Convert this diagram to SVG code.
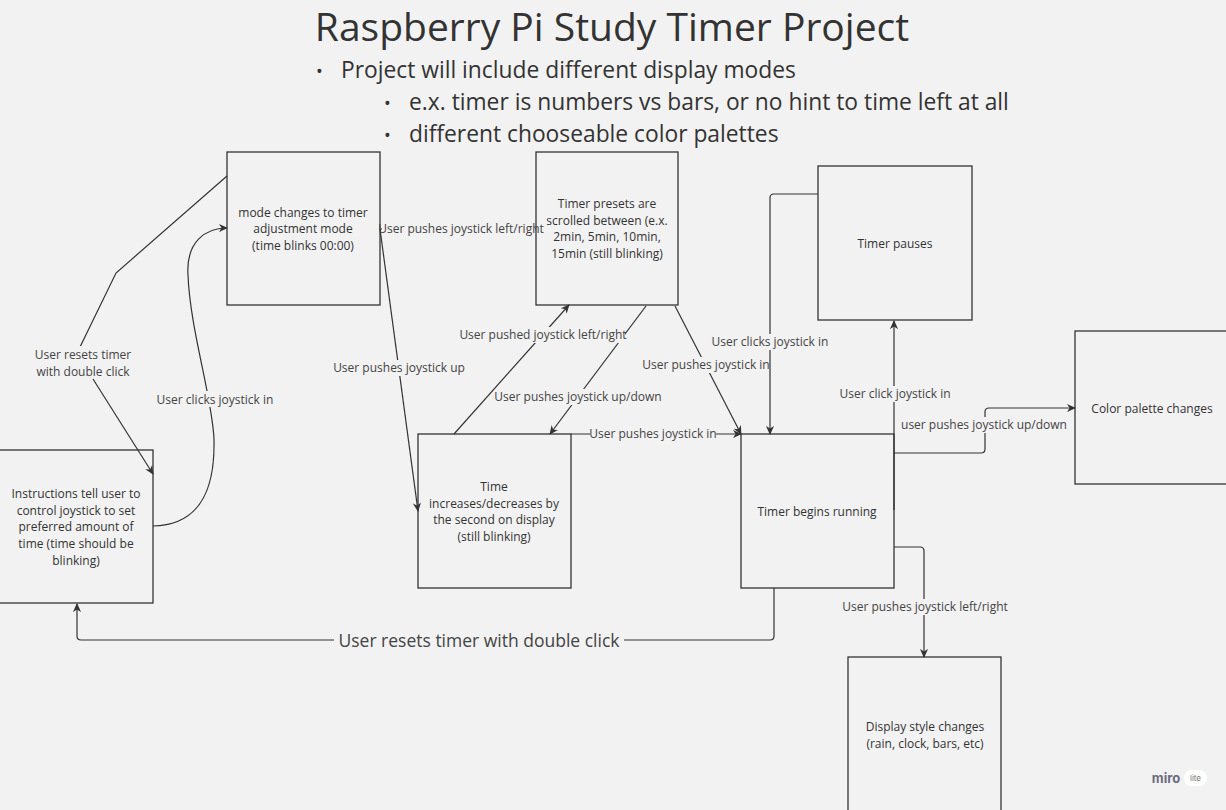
<svg xmlns="http://www.w3.org/2000/svg" width="1226" height="810" viewBox="0 0 1226 810">
<defs>
<marker id="ah" viewBox="0 0 10 10" refX="9" refY="5" markerWidth="9" markerHeight="9" markerUnits="userSpaceOnUse" orient="auto">
<path d="M0,0.5 L10,5 L0,9.5 L3,5 Z" fill="#333"/>
</marker>
<style>
.bg{fill:#f2f2f2}
.node rect{fill:#f2f2f2;stroke:#333;stroke-width:1.3}
.node text{font-family:"Open Sans","Noto Sans",sans-serif;font-size:12px;fill:#333;text-anchor:middle}
.conn path{fill:none;stroke:#333;stroke-width:1.2}
.lbl{font-family:"Open Sans","Noto Sans",sans-serif;font-size:12px;fill:#444;text-anchor:middle}
.big{font-size:17.5px}
.lblbg{fill:#f2f2f2}
.title{font-family:"Open Sans","Noto Sans",sans-serif;fill:#333}
</style>
</defs>
<rect class="bg" x="0" y="0" width="1226" height="810"/>
<g id="title">
<text class="title" x="612" y="41" font-size="39" text-anchor="middle">Raspberry Pi Study Timer Project</text>
<text class="title" x="316" y="78" font-size="18">•</text>
<text class="title" x="341" y="78" font-size="22.8">Project will include different display modes</text>
<text class="title" x="384" y="110" font-size="18">•</text>
<text class="title" x="409" y="110" font-size="22.8">e.x. timer is numbers vs bars, or no hint to time left at all</text>
<text class="title" x="384" y="142" font-size="18">•</text>
<text class="title" x="409" y="142" font-size="22.8">different chooseable color palettes</text>
</g>
<g id="n-mode" class="node">
<rect x="227" y="152" width="153" height="153"/>
<text x="303" y="217">mode changes to timer</text>
<text x="303" y="233">adjustment mode</text>
<text x="303" y="250">(time blinks 00:00)</text>
</g>
<g id="n-presets" class="node">
<rect x="536" y="152" width="142" height="153"/>
<text x="607" y="208">Timer presets are</text>
<text x="607" y="225">scrolled between (e.x.</text>
<text x="607" y="241">2min, 5min, 10min,</text>
<text x="607" y="258">15min (still blinking)</text>
</g>
<g id="n-pauses" class="node">
<rect x="818" y="166" width="154" height="154"/>
<text x="895" y="248">Timer pauses</text>
</g>
<g id="n-palette" class="node">
<rect x="1075" y="331" width="160" height="153"/>
<text x="1152" y="413">Color palette changes</text>
</g>
<g id="n-instructions" class="node">
<rect x="-10" y="450" width="163" height="153"/>
<text x="76" y="498">Instructions tell user to</text>
<text x="76" y="515">control joystick to set</text>
<text x="76" y="531">preferred amount of</text>
<text x="76" y="548">time (time should be</text>
<text x="76" y="565">blinking)</text>
</g>
<g id="n-time" class="node">
<rect x="418" y="434" width="153" height="154"/>
<text x="494" y="491">Time</text>
<text x="494" y="508">increases/decreases by</text>
<text x="494" y="524">the second on display</text>
<text x="494" y="541">(still blinking)</text>
</g>
<g id="n-running" class="node">
<rect x="741" y="434" width="153" height="154"/>
<text x="817" y="516">Timer begins running</text>
</g>
<g id="n-display" class="node">
<rect x="848" y="657" width="153" height="163"/>
<text x="925" y="731">Display style changes</text>
<text x="925" y="748">(rain, clock, bars, etc)</text>
</g>
<g id="connectors" class="conn">
<path d="M227,176 L116,273 L80,347"/>
<path d="M93,379 L153,474" marker-end="url(#ah)"/>
<path d="M153,526 C200,525 215,490 214,440 C213,400 190,330 188,275 C186,242 205,228 227,228" marker-end="url(#ah)"/>
<path d="M380,229 L536,229"/>
<path d="M380,229 L418,511" marker-end="url(#ah)"/>
<path d="M454,434 L569,305" marker-end="url(#ah)"/>
<path d="M646,306 L550,434" marker-end="url(#ah)"/>
<path d="M675,306 L741,434" marker-end="url(#ah)"/>
<path d="M571,434 L741,434" marker-end="url(#ah)"/>
<path d="M818,194 L774,194 Q770,194 770,198 L770,434" marker-end="url(#ah)"/>
<path d="M894,510 L894,321" marker-end="url(#ah)"/>
<path d="M894,453 L981,453 Q985,453 985,449 L985,412 Q985,408 989,408 L1075,408" marker-end="url(#ah)"/>
<path d="M894,547 L920,547 Q924,547 924,551 L924,657" marker-end="url(#ah)"/>
<path d="M774,588 L774,636 Q774,640 770,640 L81,640 Q77,640 77,636 L77,604" marker-end="url(#ah)"/>
<g id="labels">
<rect class="lblbg" x="382" y="221" width="153" height="16"/>
<text class="lbl" x="461" y="233">User pushes joystick left/right</text>
<rect class="lblbg" x="335" y="360" width="128" height="16"/>
<text class="lbl" x="399" y="372">User pushes joystick up</text>
<rect class="lblbg" x="461" y="327" width="164" height="16"/>
<text class="lbl" x="543" y="339">User pushed joystick left/right</text>
<rect class="lblbg" x="497" y="389" width="163" height="16"/>
<text class="lbl" x="578" y="401">User pushes joystick up/down</text>
<rect class="lblbg" x="645" y="357" width="123" height="16"/>
<text class="lbl" x="706" y="369">User pushes joystick in</text>
<rect class="lblbg" x="590" y="426" width="126" height="16"/>
<text class="lbl" x="653" y="438">User pushes joystick in</text>
<rect class="lblbg" x="713" y="334" width="114" height="16"/>
<text class="lbl" x="770" y="346">User clicks joystick in</text>
<rect class="lblbg" x="841" y="386" width="108" height="16"/>
<text class="lbl" x="895" y="398">User click joystick in</text>
<rect class="lblbg" x="903" y="417" width="163" height="16"/>
<text class="lbl" x="984" y="429">user pushes joystick up/down</text>
<rect class="lblbg" x="843" y="599" width="163" height="16"/>
<text class="lbl" x="925" y="611">User pushes joystick left/right</text>
<rect class="lblbg" x="34" y="346" width="98" height="32"/>
<text class="lbl" x="83" y="359">User resets timer</text>
<text class="lbl" x="83" y="376">with double click</text>
<rect class="lblbg" x="157" y="391" width="116" height="16"/>
<text class="lbl" x="215" y="404">User clicks joystick in</text>
<rect class="lblbg" x="334" y="629" width="290" height="24"/>
<text class="lbl big" x="479" y="647">User resets timer with double click</text>
</g>
</g>
<g id="logo">
<text x="1166" y="783" font-family="Inter,'Open Sans',sans-serif" font-size="13" font-weight="bold" fill="#6b6b80" text-anchor="middle">miro</text>
<rect x="1184" y="770" width="23" height="16" rx="8" fill="#ffffff"/>
<text x="1195.5" y="781" font-family="Inter,'Open Sans',sans-serif" font-size="8" fill="#777" text-anchor="middle">lite</text>
</g>
</svg>
